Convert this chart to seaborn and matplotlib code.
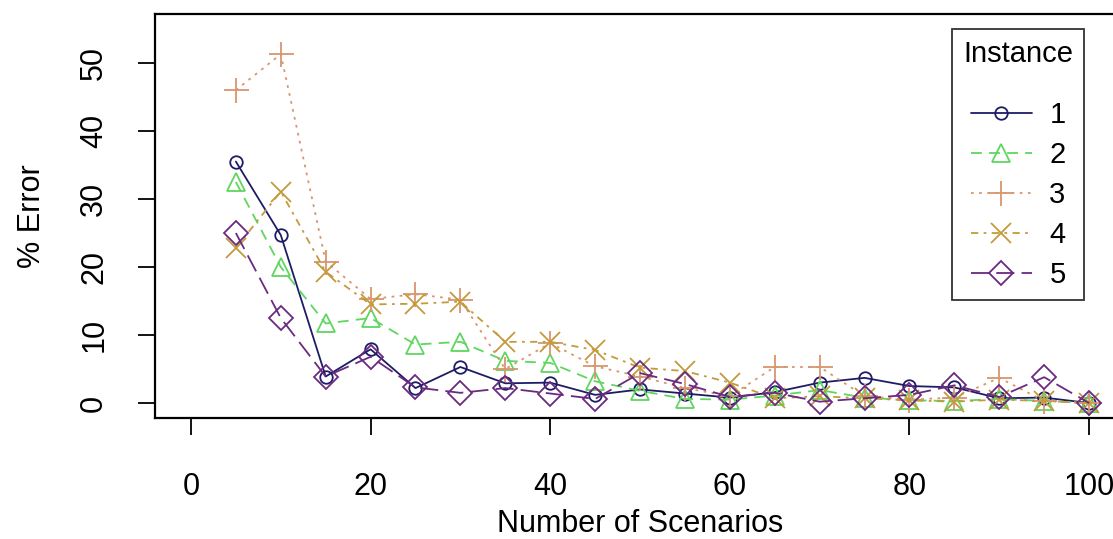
import numpy as np
import pandas as pd
import matplotlib
matplotlib.use("Agg")
import matplotlib.pyplot as plt
import seaborn as sns

# dados
scenarios = [5, 10, 15, 20, 25, 30, 35, 40, 45, 50, 55, 60, 65, 70, 75, 80, 85, 90, 95, 100]
inst1 = [35.5, 24.7, 3.9, 7.9, 2.2, 5.3, 2.9, 3.0, 1.2, 2.0, 1.4, 0.8, 1.6, 3.0, 3.7, 2.5, 2.3, 0.7, 0.8, 0.0]
inst2 = [32.5, 20.0, 11.7, 12.5, 8.6, 9.0, 6.2, 5.9, 3.2, 1.8, 0.6, 0.5, 1.1, 1.9, 0.8, 0.4, 0.3, 0.6, 0.3, 0.0]
inst3 = [46.0, 51.3, 20.8, 15.3, 16.0, 15.2, 5.0, 8.8, 5.4, 3.9, 2.2, 1.0, 5.3, 5.3, 1.0, 0.5, 0.8, 3.7, 0.3, 0.0]
inst4 = [22.8, 31.1, 19.3, 14.5, 14.6, 14.9, 9.0, 9.0, 7.8, 5.2, 4.7, 3.0, 0.7, 1.0, 0.7, 0.4, 0.2, 0.5, 0.3, 0.0]
inst5 = [25.0, 12.5, 3.9, 6.8, 2.3, 1.5, 2.2, 1.4, 0.6, 4.4, 2.8, 0.9, 1.5, 0.2, 0.7, 1.2, 2.6, 0.9, 3.8, 0.0]
instances = ['1', '2', '3', '4', '5']
x_ticks = [0, 20, 40, 60, 80, 100]
y_ticks = [0, 10, 20, 30, 40, 50]

colors = ['#1e1c66', '#5fd65f', '#d8956e', '#c49a3c', '#6a2a80']
markers = ['o', '^', '+', 'x', 'D']
msizes = [9, 13, 18, 14, 12]
styles = ['-', (0, (6, 4)), (0, (1.5, 3)), (0, (4, 3, 1.5, 3)), (0, (10, 4))]

sns.set_style("white")
plt.rcParams['font.family'] = ['Liberation Sans', 'DejaVu Sans']
plt.rcParams['text.color'] = 'black'
plt.rcParams['axes.labelcolor'] = 'black'
plt.rcParams['xtick.color'] = 'black'
plt.rcParams['ytick.color'] = 'black'

fig = plt.figure(figsize=(11.13, 5.39), dpi=100)
ax = fig.add_axes([0.1393, 0.2245, 0.8715, 0.7495])

series = [inst1, inst2, inst3, inst4, inst5]
for vals, lab, c, m, ms, ls in zip(series, instances, colors, markers, msizes, styles):
    df = pd.DataFrame({'scen': scenarios, 'err': vals})
    sns.lineplot(data=df, x='scen', y='err', ax=ax, color=c, marker=m, markersize=ms,
                 markerfacecolor='none', markeredgecolor=c, markeredgewidth=1.3,
                 linestyle=ls, linewidth=1.3, label=lab)

ax.set_xlim(-4, 104)
ax.set_ylim(-2.2, 57.2)
ax.set_xticks(x_ticks)
ax.set_yticks(y_ticks)
ax.tick_params(axis='both', direction='out', length=12, width=1.3,
               labelsize=22, color='black', bottom=True, left=True)
ax.tick_params(axis='x', pad=27)
ax.tick_params(axis='y', pad=21)
for t in ax.get_yticklabels():
    t.set_rotation(90)
    t.set_va('center')
for s in ax.spines.values():
    s.set_color('black')
    s.set_linewidth(1.6)

ax.set_xlabel('Number of Scenarios', fontsize=22, labelpad=5)
ax.set_ylabel('% Error', fontsize=22, labelpad=23)

leg = ax.legend(title='Instance', loc='upper left', bbox_to_anchor=(0.8216, 0.963),
                fontsize=21, title_fontsize=21, frameon=True, fancybox=False,
                edgecolor='black', handlelength=2.1, handletextpad=0.6,
                labelspacing=0.41, borderpad=0.35, borderaxespad=0)
leg.get_frame().set_linewidth(1.3)
leg._legend_box.sep = 24
leg._legend_box.pad = 8

fig.savefig('out.png', dpi=100)
